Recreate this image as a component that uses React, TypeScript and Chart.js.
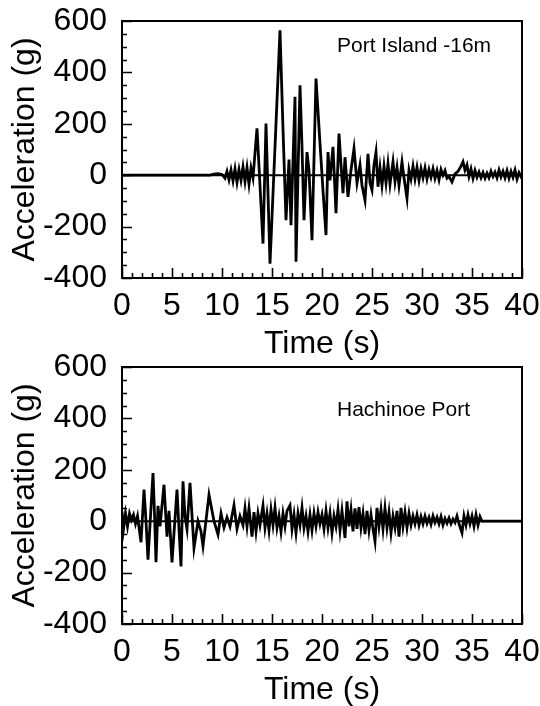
import React, { useEffect, useRef } from "react";
import { Chart, registerables } from "chart.js";
Chart.register(...registerables);

const FONT = "'Liberation Sans', Arial, Helvetica, sans-serif";

// axis ranges / ticks
const X_MIN = 0;
const X_MAX = 40;
const X_STEP = 5;
const X_MINOR = 1;
const Y_MIN = -400;
const Y_MAX = 600;
const Y_STEP = 200;
const Y_MINOR = 50;

// Port Island -16m record
const portTime = [
  0, 8.8, 9.2, 9.6, 10.0, 10.3, 10.5, 10.7, 10.9, 11.1,
  11.3, 11.5, 11.7, 11.9, 12.1, 12.3, 12.5, 12.7, 12.9, 13.1,
  13.5, 13.8, 14.1, 14.4, 14.8, 15.8, 16.1, 16.4, 16.7, 16.9,
  17.3, 17.4, 17.8, 18.0, 18.2, 18.5, 18.7, 19.0, 19.4, 19.8,
  20.1, 20.4, 20.6, 20.8, 21.1, 21.4, 21.7, 21.9, 22.1, 22.3,
  22.6, 22.9, 23.2, 23.5, 23.8, 24.0, 24.3, 24.6, 24.8, 25.0,
  25.2, 25.4, 25.6, 25.8, 26.0, 26.2, 26.4, 26.6, 26.8, 27.1,
  27.3, 27.5, 27.7, 28.0, 28.2, 28.5, 28.7, 28.9, 29.1, 29.3,
  29.5, 29.7, 29.9, 30.1, 30.3, 30.5, 30.7, 30.9, 31.1, 31.3,
  31.5, 31.7, 31.9, 32.1, 32.3, 32.5, 32.7, 33.0, 33.3, 33.6,
  33.9, 34.1, 34.3, 34.5, 34.7, 34.9, 35.1, 35.3, 35.5, 35.7,
  35.9, 36.1, 36.3, 36.5, 36.7, 36.9, 37.1, 37.3, 37.5, 37.7,
  37.9, 38.1, 38.3, 38.5, 38.7, 38.9, 39.1, 39.3, 39.5, 39.7,
  39.9, 40,
];
const portAccel = [
  0, 0, 4, 6, 3, -12, 15, -18, 20, -22,
  25, -28, 22, -20, 32, -25, 30, -35, 28, -10,
  182, -40, -266, 201, -344, 564, 180, -175, 61, -195,
  305, -337, 350, 110, -175, 90, 20, -253, 376, 123,
  -60, -233, 90, -20, 110, -148, 162, 40, -70, 70,
  -84, 20, 104, -30, 40, -40, -97, 83, -30, -58,
  40, 90, -45, 30, -40, 35, -30, 45, -35, 52,
  -25, 30, -40, 52, -10, -90, 20, -15, 35, -15,
  30, -20, 25, -10, 28, -15, 22, -8, 25, -12,
  18, -18, 22, 0, 18, -12, -5, -26, 5, 15,
  35, 52, 20, 40, -5, 25, -12, 18, -8, 12,
  -10, 10, -12, 8, -10, 15, -5, 12, -10, 20,
  -6, 15, -10, 18, -12, 15, -8, 20, -15, 10,
  -5, 5,
];

// Hachinoe Port record
const hachTime = [
  0, 0.15, 0.35, 0.55, 0.75, 0.95, 1.15, 1.35, 1.55, 1.9,
  2.2, 2.4, 2.6, 3.1, 3.25, 3.4, 3.6, 3.8, 4.2, 4.5,
  4.7, 5.0, 5.5, 5.7, 5.9, 6.1, 6.3, 6.5, 6.8, 7.2,
  7.6, 7.9, 8.1, 8.7, 9.2, 9.6, 9.9, 10.2, 10.5, 10.8,
  11.2, 11.5, 11.8, 12.1, 12.3, 12.5, 12.7, 13.0, 13.2, 13.4,
  13.6, 13.8, 14.1, 14.3, 14.5, 14.7, 14.9, 15.1, 15.3, 15.5,
  15.7, 15.9, 16.1, 16.3, 16.5, 16.8, 17.0, 17.2, 17.4, 17.6,
  17.8, 18.0, 18.2, 18.4, 18.6, 18.8, 19.0, 19.2, 19.4, 19.6,
  19.8, 20.0, 20.2, 20.4, 20.6, 20.8, 21.0, 21.2, 21.4, 21.6,
  21.8, 22.0, 22.3, 22.5, 22.7, 22.9, 23.1, 23.3, 23.5, 23.7,
  23.9, 24.1, 24.3, 24.5, 24.7, 24.9, 25.1, 25.3, 25.5, 25.7,
  25.9, 26.1, 26.3, 26.5, 26.7, 26.9, 27.1, 27.3, 27.5, 27.7,
  27.9, 28.1, 28.3, 28.5, 28.7, 28.9, 29.1, 29.3, 29.5, 29.7,
  29.9, 30.1, 30.3, 30.5, 30.7, 30.9, 31.1, 31.3, 31.5, 31.7,
  31.9, 32.1, 32.3, 32.5, 32.7, 32.9, 33.1, 33.3, 33.5, 33.7,
  34.0, 34.2, 34.4, 34.6, 34.8, 35.0, 35.2, 35.4, 35.6, 35.8,
  36.0, 40,
];
const hachAccel = [
  38, -30, 30, -20, 30, 5, 25, -10, 20, -82,
  123, 0, -150, 187, 30, -160, 60, -20, 142, -60,
  40, -160, 123, -30, -176, 155, 20, -30, 149, -104,
  0, -40, -97, 103, 0, -52, 30, -25, 15, -20,
  62, -30, 20, -15, 50, -20, 50, -60, 35, -40,
  30, -15, 60, -25, 30, -35, 45, -15, 52, -25,
  20, -40, 30, -20, 40, 62, -30, 25, -45, 30,
  -15, 52, -25, 20, -40, 25, -35, 30, -20, 35,
  -10, 25, -30, 40, -25, 30, -45, 20, -20, 45,
  -35, 40, -65, 77, -20, 45, -40, 50, -30, 55,
  -25, 30, -50, 40, -35, 25, -30, -78, 52, -20,
  45, -30, 50, -25, 35, -45, 20, -25, 40, -60,
  52, -20, 35, -25, 30, -15, 20, -10, 25, -15,
  18, -10, 20, -8, 15, -12, 20, -5, 15, -10,
  18, -15, 10, -8, 12, -10, 8, -5, 20, -10,
  -45, 20, -15, 25, -10, 20, -20, 25, -15, 18,
  0, 0,
];

const framePlugin = {
  id: "frame",
  afterDatasetsDraw(chart: any, _args: any, opts: any) {
    const { ctx, chartArea, scales } = chart;
    const { left, right, top, bottom } = chartArea;
    const x = scales.x;
    const y = scales.y;
    ctx.save();
    ctx.strokeStyle = "#000";
    ctx.lineWidth = 2;
    ctx.strokeRect(left, top, right - left, bottom - top);
    ctx.lineWidth = 1.6;
    ctx.beginPath();
    for (let t = X_MIN; t <= X_MAX; t += X_MINOR) {
      const px = Math.round(x.getPixelForValue(t)) + 0.5;
      const len = t % X_STEP === 0 ? 10 : 5;
      ctx.moveTo(px, bottom);
      ctx.lineTo(px, bottom - len);
    }
    for (let v = Y_MIN; v <= Y_MAX; v += Y_MINOR) {
      const py = Math.round(y.getPixelForValue(v)) + 0.5;
      const len = v % Y_STEP === 0 ? 10 : 5;
      ctx.moveTo(left, py);
      ctx.lineTo(left + len, py);
    }
    ctx.stroke();
    ctx.font = `21px ${FONT}`;
    ctx.fillStyle = "#000";
    ctx.textAlign = "left";
    ctx.textBaseline = "middle";
    ctx.fillText(opts.text, x.getPixelForValue(opts.x), y.getPixelForValue(opts.y));
    ctx.restore();
  },
};

function makeConfig(times: number[], accel: number[], label: string, labelY: number): any {
  const tickFont = { family: FONT, size: 32 };
  const titleFont = { family: FONT, size: 32, lineHeight: 1 };
  return {
    type: "line",
    data: {
      datasets: [
        {
          data: [
            { x: X_MIN, y: 0 },
            { x: X_MAX, y: 0 },
          ],
          borderColor: "#000",
          borderWidth: 2,
          pointRadius: 0,
          fill: false,
        },
        {
          data: times.map((t, i) => ({ x: t, y: accel[i] })),
          borderColor: "#000",
          borderWidth: 2.8,
          pointRadius: 0,
          fill: false,
          tension: 0,
        },
      ],
    },
    options: {
      animation: false,
      responsive: false,
      devicePixelRatio: 1,
      layout: { padding: { top: 21, right: 18, bottom: 0, left: 0 } },
      plugins: {
        legend: { display: false },
        tooltip: { enabled: false },
        frame: { text: label, x: 21.5, y: labelY },
      },
      scales: {
        x: {
          type: "linear",
          min: X_MIN,
          max: X_MAX,
          ticks: { stepSize: X_STEP, padding: 9, color: "#000", font: tickFont, maxRotation: 0, autoSkip: false },
          grid: { display: false, drawTicks: false },
          border: { display: false },
          title: { display: true, text: "Time (s)", color: "#000", font: titleFont, padding: { top: 0, bottom: 0 } },
          afterFit: (s: any) => {
            s.height = 82;
            s.paddingLeft = 0;
            s.paddingRight = 0;
          },
        },
        y: {
          type: "linear",
          min: Y_MIN,
          max: Y_MAX,
          ticks: { stepSize: Y_STEP, padding: 15, color: "#000", font: tickFont },
          grid: { display: false, drawTicks: false },
          border: { display: false },
          title: { display: true, text: "Acceleration (g)", color: "#000", font: titleFont, padding: { top: 9, bottom: 0 } },
          afterFit: (s: any) => {
            s.width = 122;
            s.paddingTop = 0;
            s.paddingBottom = 0;
          },
        },
      },
    },
    plugins: [framePlugin],
  };
}

function Panel({ times, accel, label, labelY, top }: any) {
  const ref = useRef<HTMLCanvasElement>(null);
  useEffect(() => {
    const chart = new Chart(ref.current as HTMLCanvasElement, makeConfig(times, accel, label, labelY));
    return () => chart.destroy();
  }, []);
  return (
    <canvas
      ref={ref}
      width={540}
      height={360}
      style={{ position: "absolute", left: 0, top, width: 540, height: 360, display: "block" }}
    />
  );
}

export default function App() {
  return (
    <div style={{ position: "absolute", left: 0, top: 0, width: 540, height: 706, background: "#fff" }}>
      <Panel times={portTime} accel={portAccel} label="Port Island -16m" labelY={500} top={0} />
      <Panel times={hachTime} accel={hachAccel} label="Hachinoe Port" labelY={430} top={346} />
    </div>
  );
}
